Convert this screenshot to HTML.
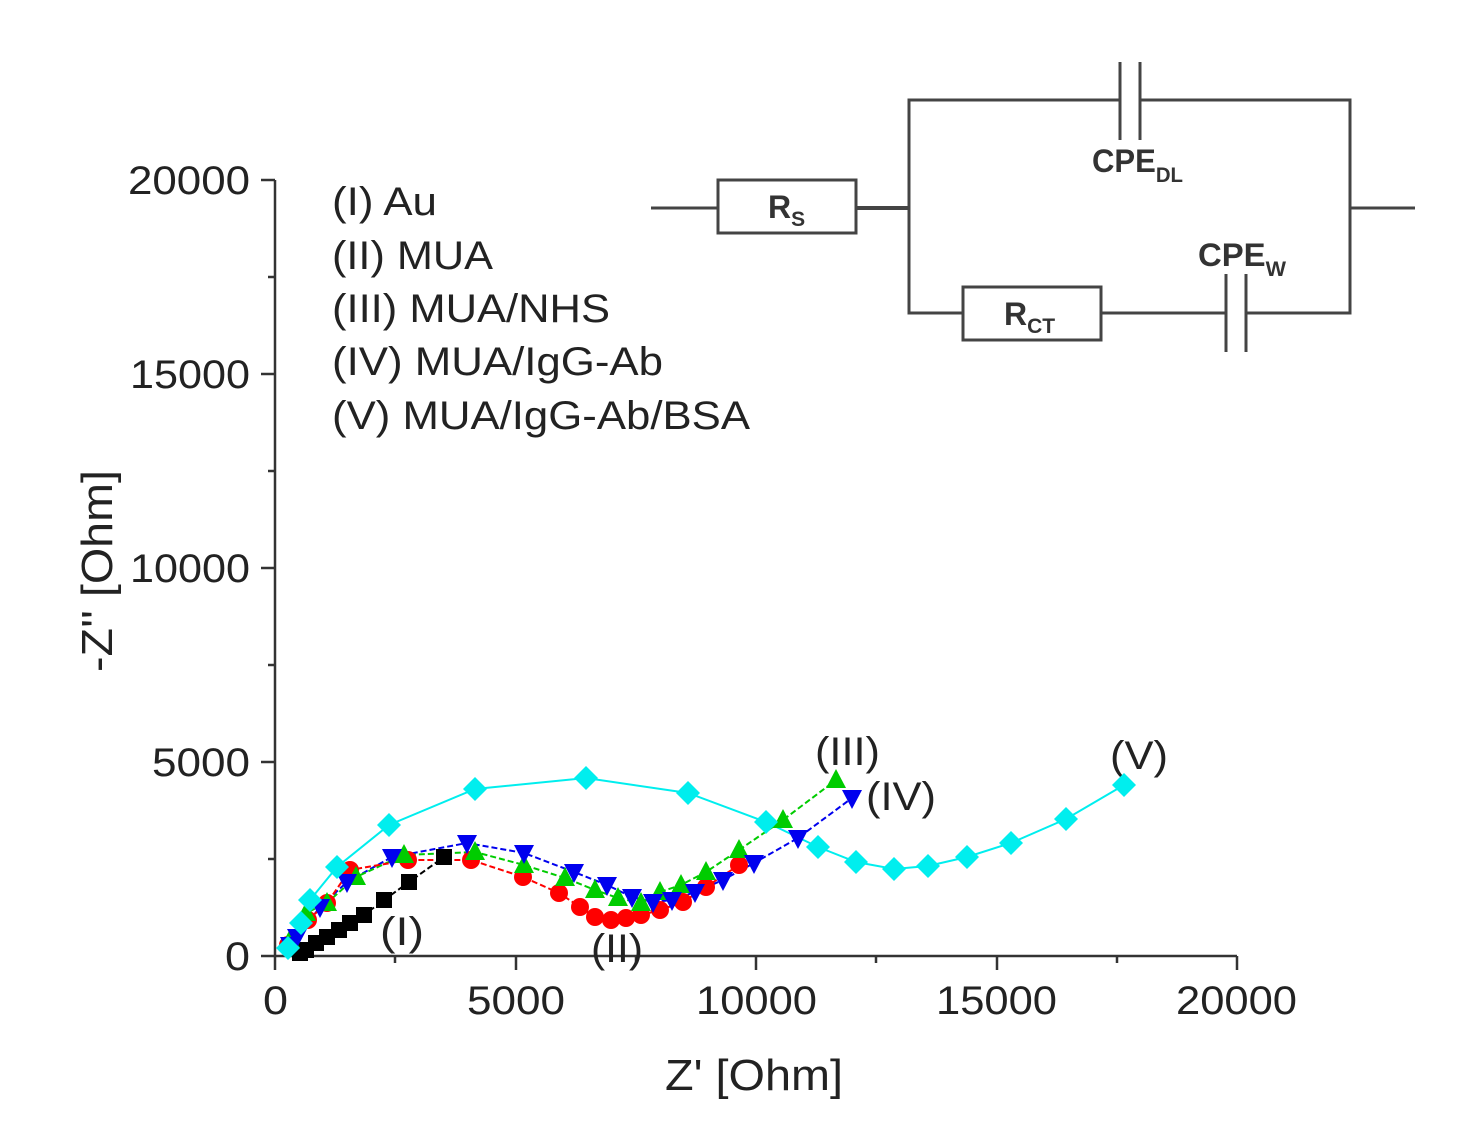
<!DOCTYPE html>
<html><head><meta charset="utf-8"><style>
html,body{margin:0;padding:0;background:#fff;}
svg{display:block;}
text{font-family:"Liberation Sans",sans-serif;}
</style></head><body>
<svg width="1473" height="1132" viewBox="0 0 1473 1132" xmlns="http://www.w3.org/2000/svg">
<!-- circuit -->
<g stroke="#444" stroke-width="3" fill="none">
<line x1="651" y1="208" x2="718" y2="208"/>
<rect x="718" y="180" width="138" height="53"/>
<line x1="856" y1="208" x2="909" y2="208" stroke-width="4"/>
<polyline points="1120,100 909,100 909,313 963,313"/>
<polyline points="1140,100 1350,100 1350,313 1246,313"/>
<line x1="1350" y1="208" x2="1415" y2="208"/>
<line x1="1120" y1="62" x2="1120" y2="140"/>
<line x1="1140" y1="62" x2="1140" y2="140"/>
<rect x="963" y="287" width="138" height="53"/>
<line x1="1101" y1="313" x2="1226" y2="313"/>
<line x1="1226" y1="274" x2="1226" y2="352"/>
<line x1="1246" y1="274" x2="1246" y2="352"/>
</g>
<g fill="#333" font-weight="bold">
<text x="768" y="218" font-size="32">R<tspan font-size="21" dy="8">S</tspan></text>
<text x="1092" y="172" font-size="32" textLength="91" lengthAdjust="spacingAndGlyphs">CPE<tspan font-size="21" dy="10">DL</tspan></text>
<text x="1198" y="266" font-size="32" textLength="88" lengthAdjust="spacingAndGlyphs">CPE<tspan font-size="21" dy="10">W</tspan></text>
<text x="1004" y="325" font-size="32">R<tspan font-size="21" dy="8">CT</tspan></text>
</g>
<!-- axes -->
<g stroke="#333" stroke-width="2.5">
<line x1="275" y1="180" x2="275" y2="957"/>
<line x1="274" y1="956" x2="1237" y2="956"/>
<line x1="261" y1="180" x2="275" y2="180"/><line x1="261" y1="374" x2="275" y2="374"/><line x1="261" y1="568" x2="275" y2="568"/><line x1="261" y1="762" x2="275" y2="762"/><line x1="261" y1="956" x2="275" y2="956"/>
<line x1="268" y1="277" x2="275" y2="277"/><line x1="268" y1="471" x2="275" y2="471"/><line x1="268" y1="665" x2="275" y2="665"/><line x1="268" y1="859" x2="275" y2="859"/>
<line x1="275" y1="956" x2="275" y2="970"/><line x1="516" y1="956" x2="516" y2="970"/><line x1="756" y1="956" x2="756" y2="970"/><line x1="997" y1="956" x2="997" y2="970"/><line x1="1237" y1="956" x2="1237" y2="970"/>
<line x1="395" y1="956" x2="395" y2="963"/><line x1="636" y1="956" x2="636" y2="963"/><line x1="876" y1="956" x2="876" y2="963"/><line x1="1117" y1="956" x2="1117" y2="963"/>
</g>
<g fill="#222" font-size="40">
<text x="128" y="194" textLength="122" lengthAdjust="spacingAndGlyphs">20000</text>
<text x="130" y="388" textLength="120" lengthAdjust="spacingAndGlyphs">15000</text>
<text x="130" y="582" textLength="120" lengthAdjust="spacingAndGlyphs">10000</text>
<text x="152" y="776" textLength="98" lengthAdjust="spacingAndGlyphs">5000</text>
<text x="225" y="970" textLength="25" lengthAdjust="spacingAndGlyphs">0</text>
<text x="263" y="1014" textLength="25" lengthAdjust="spacingAndGlyphs">0</text>
<text x="467" y="1014" textLength="98" lengthAdjust="spacingAndGlyphs">5000</text>
<text x="696" y="1014" textLength="121" lengthAdjust="spacingAndGlyphs">10000</text>
<text x="936" y="1014" textLength="121" lengthAdjust="spacingAndGlyphs">15000</text>
<text x="1176" y="1014" textLength="121" lengthAdjust="spacingAndGlyphs">20000</text>
<text x="665" y="1090" font-size="44" textLength="178" lengthAdjust="spacingAndGlyphs">Z' [Ohm]</text>
<text x="0" y="0" font-size="44" textLength="202" lengthAdjust="spacingAndGlyphs" transform="translate(112 672) rotate(-90)">-Z'' [Ohm]</text>
<text x="332" y="215" textLength="105" lengthAdjust="spacingAndGlyphs">(I) Au</text>
<text x="332" y="269" textLength="161" lengthAdjust="spacingAndGlyphs">(II) MUA</text>
<text x="332" y="322" textLength="278" lengthAdjust="spacingAndGlyphs">(III) MUA/NHS</text>
<text x="332" y="375" textLength="331" lengthAdjust="spacingAndGlyphs">(IV) MUA/IgG-Ab</text>
<text x="332" y="429" textLength="418" lengthAdjust="spacingAndGlyphs">(V) MUA/IgG-Ab/BSA</text>
<text x="380" y="945" textLength="44" lengthAdjust="spacingAndGlyphs">(I)</text>
<text x="591" y="962" textLength="52" lengthAdjust="spacingAndGlyphs">(II)</text>
<text x="815" y="765" textLength="65" lengthAdjust="spacingAndGlyphs">(III)</text>
<text x="866" y="810" textLength="70" lengthAdjust="spacingAndGlyphs">(IV)</text>
<text x="1110" y="769" textLength="58" lengthAdjust="spacingAndGlyphs">(V)</text>
</g>
<!-- data -->
<defs>
<rect id="sq" x="-8" y="-8" width="16" height="16" fill="#000"/>
<circle id="ci" r="9" fill="#f00"/>
<polygon id="tu" points="0,-11 10,8 -10,8" fill="#0c0"/>
<polygon id="td" points="0,11 10,-8 -10,-8" fill="#00e"/>
<polygon id="di" points="0,-12 12,0 0,12 -12,0" fill="#0ee"/>
</defs>
<polyline fill="none" stroke="#0ee" stroke-width="2" points="288,950 301,923 310,900 337,867 389,825 475,789 586,778 688,793 766,822 818,847 856,862 894,869 928,866 967,857 1011,843 1066,819 1124,785"/>
<polyline fill="none" stroke="#00e" stroke-width="2" stroke-dasharray="6,3" points="288,950 297,937 320,907 347,882 392,857 467,843 524,853 574,872 607,885 632,897 653,902 672,900 695,892 723,880 754,863 798,838 852,798"/>
<polyline fill="none" stroke="#0c0" stroke-width="2" stroke-dasharray="6,3" points="288,950 306,913 327,903 356,877 404,855 475,852 524,865 565,878 595,890 618,898 641,903 660,892 681,885 706,872 739,850 783,820 836,780"/>
<polyline fill="none" stroke="#f00" stroke-width="2" stroke-dasharray="6,3" points="288,950 308,920 327,903 350,870 408,860 471,860 523,877 559,893 580,907 595,917 611,920 626,918 641,915 660,910 683,902 706,887 739,865"/>
<polyline fill="none" stroke="#000" stroke-width="2" stroke-dasharray="6,3" points="300,953 306,950 316,943 327,937 339,930 350,923 364,915 384,900 409,882 444,857"/>
<g>
<use href="#sq" x="300" y="953"/><use href="#sq" x="306" y="950"/><use href="#sq" x="316" y="943"/><use href="#sq" x="327" y="937"/><use href="#sq" x="339" y="930"/><use href="#sq" x="350" y="923"/><use href="#sq" x="364" y="915"/><use href="#sq" x="384" y="900"/><use href="#sq" x="409" y="882"/><use href="#sq" x="444" y="857"/>
<use href="#ci" x="288" y="945"/><use href="#ci" x="308" y="920"/><use href="#ci" x="327" y="903"/><use href="#ci" x="350" y="870"/><use href="#ci" x="408" y="860"/><use href="#ci" x="471" y="860"/><use href="#ci" x="523" y="877"/><use href="#ci" x="559" y="893"/><use href="#ci" x="580" y="907"/><use href="#ci" x="595" y="917"/><use href="#ci" x="611" y="920"/><use href="#ci" x="626" y="918"/><use href="#ci" x="641" y="915"/><use href="#ci" x="660" y="910"/><use href="#ci" x="683" y="902"/><use href="#ci" x="706" y="887"/><use href="#ci" x="739" y="865"/>
<use href="#tu" x="290" y="940"/><use href="#tu" x="306" y="913"/><use href="#tu" x="327" y="903"/><use href="#tu" x="356" y="877"/><use href="#tu" x="404" y="855"/><use href="#tu" x="475" y="852"/><use href="#tu" x="524" y="865"/><use href="#tu" x="565" y="878"/><use href="#tu" x="595" y="890"/><use href="#tu" x="618" y="898"/><use href="#tu" x="641" y="903"/><use href="#tu" x="660" y="892"/><use href="#tu" x="681" y="885"/><use href="#tu" x="706" y="872"/><use href="#tu" x="739" y="850"/><use href="#tu" x="783" y="820"/><use href="#tu" x="836" y="780"/>
<use href="#td" x="290" y="945"/><use href="#td" x="297" y="937"/><use href="#td" x="320" y="907"/><use href="#td" x="347" y="882"/><use href="#td" x="392" y="857"/><use href="#td" x="467" y="843"/><use href="#td" x="524" y="853"/><use href="#td" x="574" y="872"/><use href="#td" x="607" y="885"/><use href="#td" x="632" y="897"/><use href="#td" x="653" y="902"/><use href="#td" x="672" y="900"/><use href="#td" x="695" y="892"/><use href="#td" x="723" y="880"/><use href="#td" x="754" y="863"/><use href="#td" x="798" y="838"/><use href="#td" x="852" y="798"/>
<use href="#di" x="288" y="948"/><use href="#di" x="301" y="923"/><use href="#di" x="310" y="900"/><use href="#di" x="337" y="867"/><use href="#di" x="389" y="825"/><use href="#di" x="475" y="789"/><use href="#di" x="586" y="778"/><use href="#di" x="688" y="793"/><use href="#di" x="766" y="822"/><use href="#di" x="818" y="847"/><use href="#di" x="856" y="862"/><use href="#di" x="894" y="869"/><use href="#di" x="928" y="866"/><use href="#di" x="967" y="857"/><use href="#di" x="1011" y="843"/><use href="#di" x="1066" y="819"/><use href="#di" x="1124" y="785"/>
</g>
</svg>
</body></html>
